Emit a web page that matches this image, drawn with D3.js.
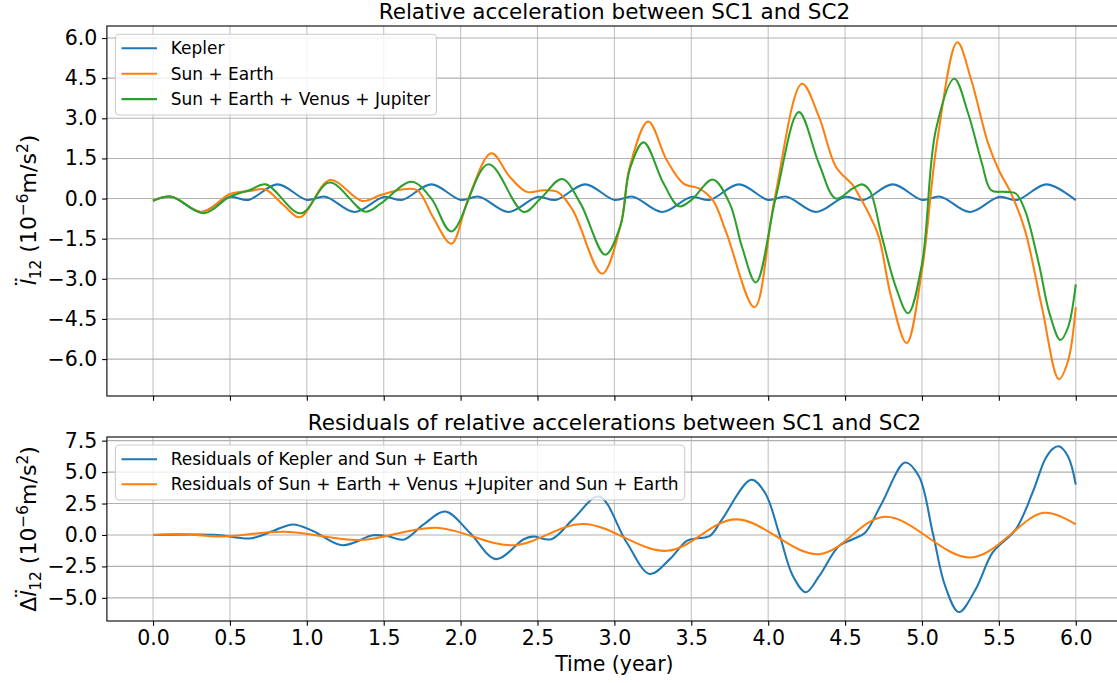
<!DOCTYPE html>
<html><head><meta charset="utf-8">
<script src="https://cdn.jsdelivr.net/npm/d3@7"></script>
<style>body{margin:0;background:#fff}svg{display:block}text{font-family:"DejaVu Sans",sans-serif}</style>
</head><body><svg id="c" width="1117" height="683"></svg>
<script>
// ---------- data ----------
const xTickValues = [0,0.5,1,1.5,2,2.5,3,3.5,4,4.5,5,5.5,6];
const topYTickValues = [-6,-4.5,-3,-1.5,0,1.5,3,4.5,6];
const botYTickValues = [-5,-2.5,0,2.5,5,7.5];

const keplerT = [0,0.12,0.31,0.5,0.62,0.81,1.0,1.12,1.31,1.5,1.62,1.81,2.0,2.12,2.31,2.5,2.62,2.81,3.0,3.12,3.31,3.5,3.62,3.81,4.0,4.12,4.31,4.5,4.62,4.81,5.0,5.12,5.31,5.5,5.62,5.81,6.0];
const keplerV = [-0.08,0.07,-0.5,0.06,-0.05,0.53,-0.05,0.07,-0.5,0.06,-0.05,0.53,-0.05,0.07,-0.5,0.06,-0.05,0.53,-0.05,0.07,-0.5,0.06,-0.05,0.53,-0.05,0.07,-0.5,0.06,-0.05,0.53,-0.05,0.07,-0.5,0.06,-0.05,0.53,-0.06];

const sunEarthT = [0,0.12,0.32,0.5,0.63,0.73,0.85,0.955,1.15,1.36,1.48,1.63,1.72,1.82,1.94,2.05,2.2,2.32,2.43,2.54,2.63,2.73,2.92,3.04,3.1,3.22,3.34,3.45,3.55,3.64,3.73,3.91,4.04,4.22,4.33,4.44,4.55,4.59,4.66,4.72,4.8,4.9,5.0,5.1,5.23,5.32,5.43,5.5,5.58,5.67,5.78,5.89,5.95,6.0];
const sunEarthV = [-0.08,0.07,-0.5,0.17,0.28,0.34,-0.25,-0.70,0.69,-0.09,0.13,0.35,0.31,-0.69,-1.69,0.0,1.69,0.81,0.25,0.31,0.25,-0.44,-2.81,-1.0,1.19,2.88,1.44,0.56,0.38,-0.06,-1.31,-4.06,-0.06,4.29,3.06,1.19,0.5,0.125,-0.63,-1.44,-3.69,-5.4,-2.69,2.19,5.84,4.44,2.06,1.06,0.19,-1.19,-4.06,-6.75,-6.06,-4.06];

const sevjT = [0,0.12,0.33,0.5,0.63,0.735,0.96,1.147,1.38,1.48,1.68,1.81,1.94,2.18,2.41,2.52,2.66,2.78,2.94,3.04,3.1,3.19,3.32,3.42,3.5,3.64,3.75,3.83,3.92,4.05,4.2,4.33,4.44,4.55,4.61,4.66,4.74,4.83,4.91,5.0,5.09,5.21,5.3,5.39,5.45,5.54,5.61,5.67,5.76,5.83,5.9,5.95,6.0];
const sevjV = [-0.08,0.07,-0.55,0.07,0.32,0.53,-0.55,0.60,-0.49,-0.19,0.63,0.0,-1.23,1.28,-0.5,0.0,0.73,-0.19,-2.1,-1.0,1.1,2.1,0.56,-0.29,-0.06,0.71,-0.19,-1.81,-3.14,0.06,3.23,1.31,0.0,0.38,0.53,0.3,-1.44,-3.31,-4.29,-2.44,2.56,4.48,3.19,1.31,0.31,0.25,0.19,-0.44,-2.44,-4.31,-5.29,-4.81,-3.21];

const resKeplerT = [0,0.24,0.42,0.64,0.78,0.91,1.04,1.23,1.43,1.52,1.63,1.76,1.9,2.06,2.23,2.41,2.47,2.59,2.73,2.9,3.08,3.23,3.36,3.47,3.53,3.62,3.7,3.89,3.98,4.07,4.16,4.245,4.33,4.46,4.55,4.63,4.74,4.89,4.98,5.07,5.15,5.24,5.35,5.46,5.61,5.72,5.8,5.85,5.89,5.95,6.0];
const resKeplerV = [0,0.03,0,-0.26,0.32,0.84,0.32,-0.82,-0.03,-0.08,-0.37,0.84,1.87,0.18,-1.92,-0.34,-0.13,-0.34,1.24,3.05,-0.6,-3.1,-1.92,-0.47,-0.29,-0.08,1.24,4.39,3.34,0.18,-3.24,-4.55,-3.3,-0.87,-0.34,0.18,2.55,5.76,4.66,0.18,-4.03,-6.13,-4.29,-1.39,0.45,3.4,6.0,6.85,7.05,6.24,4.0];

const resSevjT = [0,0.18,0.45,0.85,1.35,1.84,2.34,2.8,3.34,3.79,4.33,4.76,5.32,5.79,6.0];
const resSevjV = [0,0.08,-0.12,0.26,-0.4,0.58,-0.82,0.88,-1.26,1.24,-1.53,1.45,-1.79,1.76,0.84];

const topLegend = ["Kepler","Sun + Earth","Sun + Earth + Venus + Jupiter"];
const botLegend = ["Residuals of Kepler and Sun + Earth","Residuals of Sun + Earth + Venus +Jupiter and Sun + Earth"];
const colors = ["#1f77b4","#ff7f0e","#2ca02c"];

// ---------- drawing ----------
const svg = d3.select("#c");
const X0 = 106.9, X1 = 1121.9;
const x = d3.scaleLinear().domain([-0.3,6.3]).range([X0,X1]);
const yTop = d3.scaleLinear().domain([-7.38,6.45]).range([396,26]);
const yBot = d3.scaleLinear().domain([-6.84,7.79]).range([621,437]);
const fmt = d3.format(".1f");
const zip = (t,v)=>t.map((d,i)=>[d,v[i]]);

function panel(y, yTicks, series, labels, legendBox, showXLabels){
  const [yb, yt] = y.range();
  const g = svg.append("g");
  g.selectAll(".gx").data(xTickValues).enter().append("line")
    .attr("x1",d=>x(d)).attr("x2",d=>x(d)).attr("y1",yt).attr("y2",yb)
    .attr("stroke","#b0b0b0").attr("stroke-width",1.1).attr("stroke-opacity",0.75);
  g.selectAll(".gy").data(yTicks).enter().append("line")
    .attr("x1",X0).attr("x2",X1).attr("y1",d=>y(d)).attr("y2",d=>y(d))
    .attr("stroke","#b0b0b0").attr("stroke-width",1.1);
  const line = d3.line().x(d=>x(d[0])).y(d=>y(d[1])).curve(d3.curveCatmullRom.alpha(0.5));
  series.forEach((s,i)=>{
    g.append("path").attr("d",line(s)).attr("fill","none")
      .attr("stroke",colors[i]).attr("stroke-width",2.05).attr("stroke-linejoin","round");
  });
  const lg = g.append("g");
  lg.append("rect").attr("x",legendBox.x).attr("y",legendBox.y)
    .attr("width",legendBox.w).attr("height",legendBox.h).attr("rx",4)
    .attr("fill","#fff").attr("fill-opacity",0.8).attr("stroke","#cccccc").attr("stroke-width",1.1);
  labels.forEach((lab,i)=>{
    const cy = legendBox.row0 + i*legendBox.dy;
    lg.append("line").attr("x1",121.5).attr("x2",157).attr("y1",cy).attr("y2",cy)
      .attr("stroke",colors[i]).attr("stroke-width",2.05);
    lg.append("text").attr("x",170.7).attr("y",cy).attr("dy","0.36em")
      .attr("font-size",17).attr("fill","#000").text(lab);
  });
  g.append("rect").attr("x",X0).attr("y",yt).attr("width",X1-X0).attr("height",yb-yt)
    .attr("fill","none").attr("stroke","#000").attr("stroke-width",1.1);
  const ay = g.append("g").attr("transform",`translate(${X0},0)`)
    .call(d3.axisLeft(y).tickValues(yTicks).tickFormat(fmt).tickSize(4.8).tickPadding(4.8));
  const ax = g.append("g").attr("transform",`translate(0,${yb})`)
    .call(d3.axisBottom(x).tickValues(xTickValues).tickFormat(showXLabels?fmt:()=> "").tickSize(4.8).tickPadding(4.8));
  [ay,ax].forEach(a=>{
    a.select(".domain").remove();
    a.attr("font-family","DejaVu Sans").attr("font-size",20.5);
    a.selectAll("line").attr("stroke-width",1.1);
    a.selectAll("text").attr("fill","#000");
  });
  return g;
}

panel(yTop, topYTickValues,
  [zip(keplerT,keplerV), zip(sunEarthT,sunEarthV), zip(sevjT,sevjV)],
  topLegend, {x:115.4,y:34.3,w:321,h:80.7,row0:48.3,dy:25.4}, false);
panel(yBot, botYTickValues,
  [zip(resKeplerT,resKeplerV), zip(resSevjT,resSevjV)],
  botLegend, {x:115.4,y:445,w:569.3,h:55,row0:459.3,dy:25}, true);

svg.append("text").attr("x",614.4).attr("y",19).attr("text-anchor","middle")
  .attr("font-size",21.5).text("Relative acceleration between SC1 and SC2");
svg.append("text").attr("x",614.4).attr("y",429.5).attr("text-anchor","middle")
  .attr("font-size",21.5).text("Residuals of relative accelerations between SC1 and SC2");
svg.append("text").attr("x",614.4).attr("y",671).attr("text-anchor","middle")
  .attr("font-size",20.5).text("Time (year)");

function yLabel(cx, cy, delta){
  const s = 22;
  const t = svg.append("text").attr("transform",`translate(${cx},${cy}) rotate(-90)`)
    .attr("text-anchor","middle").attr("font-size",s);
  if (delta) t.append("tspan").text("\u0394");
  t.append("tspan").attr("font-style","italic").text("l");
  t.append("tspan").attr("dx",-8.3).attr("dy",-5.5).text("\u00a8");
  t.append("tspan").attr("font-size",s*0.7).attr("dx",-2.9).attr("dy",10).text("12");
  t.append("tspan").attr("dy",-4.5).text("\u00a0(10");
  t.append("tspan").attr("font-size",s*0.7).attr("dy",-8.5).text("\u22126");
  t.append("tspan").attr("dy",8.5).text("m/s");
  t.append("tspan").attr("font-size",s*0.7).attr("dy",-8.5).text("2");
  t.append("tspan").attr("dy",8.5).text(")");
}
yLabel(36, 211, false);
yLabel(36, 529, true);
</script></body></html>
